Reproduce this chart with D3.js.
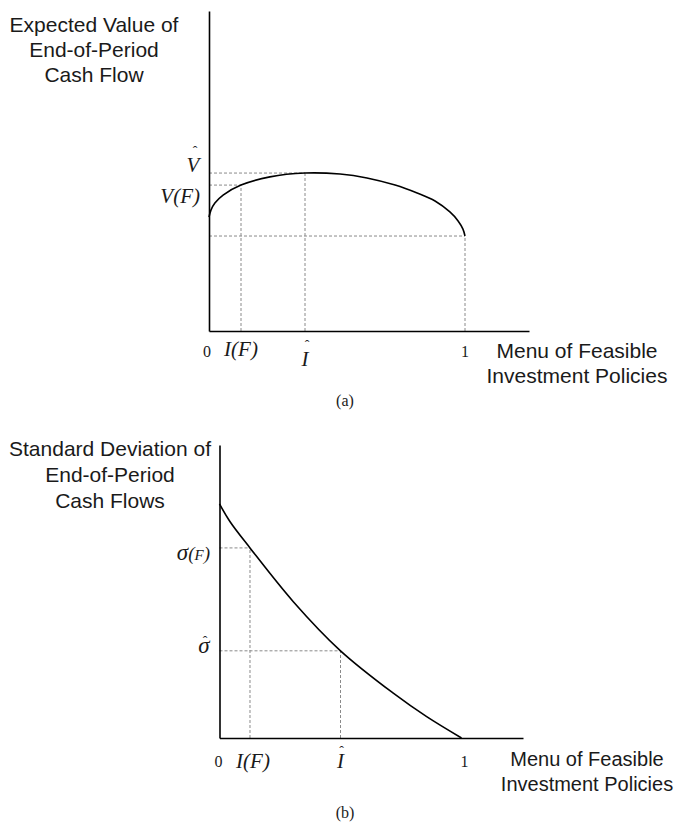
<!DOCTYPE html>
<html>
<head>
<meta charset="utf-8">
<script src="https://cdn.jsdelivr.net/npm/d3@7"></script>
<style>
  html, body { margin: 0; padding: 0; background: #fff; }
  svg { display: block; }
</style>
</head>
<body>
<svg id="chart" width="683" height="831"></svg>
<script>
// panel (a): expected value of cash flow along the investment menu
var valX = [0, 0.008, 0.023, 0.055, 0.125, 0.238, 0.375, 0.512, 0.617, 0.727, 0.813, 0.883, 0.941, 0.973, 0.992, 1.0];
var valY = [0.445, 0.473, 0.5, 0.531, 0.570, 0.602, 0.617, 0.613, 0.598, 0.570, 0.539, 0.508, 0.465, 0.430, 0.398, 0.371];
var valGuideX = [0.125, 0.375, 1];      // I(F), I-hat, 1
var valGuideY = [0.570, 0.617, 0.371];  // V(F), V-hat, value at 1

// panel (b): standard deviation of cash flows
var sdX = [0, 0.043, 0.126, 0.305, 0.5, 0.718, 0.856, 1];
var sdY = [0.967, 0.894, 0.785, 0.563, 0.36, 0.185, 0.088, 0];
var sdGuideX = [0.126, 0.5];   // I(F), I-hat
var sdGuideY = [0.785, 0.36];  // sigma(F), sigma-hat

var titleA = ["Expected Value of", "End-of-Period", "Cash Flow"];
var titleB = ["Standard Deviation of", "End-of-Period", "Cash Flows"];
var xTitle = ["Menu of Feasible", "Investment Policies"];

var svg = d3.select("#chart");
var sans = "'Liberation Sans', Arial, Helvetica, sans-serif";
var serif = "'Liberation Serif', 'Times New Roman', serif";

function panel(opt) {
    var x = d3.scaleLinear().domain(opt.xDomain).range(opt.xRange);
    var y = d3.scaleLinear().domain(opt.yDomain).range(opt.yRange);
    var g = svg.append("g");

    // dashed guides
    var pts = opt.gx.map(function (d, i) { return [d, opt.gy[i]]; });
    g.selectAll(".vguide").data(pts).enter().append("line")
        .attr("x1", function (d) { return x(d[0]); })
        .attr("x2", function (d) { return x(d[0]); })
        .attr("y1", y(0))
        .attr("y2", function (d) { return y(d[1]); });
    g.selectAll(".hguide").data(pts).enter().append("line")
        .attr("x1", x(0))
        .attr("x2", function (d) { return x(d[0]); })
        .attr("y1", function (d) { return y(d[1]); })
        .attr("y2", function (d) { return y(d[1]); });
    g.selectAll("line")
        .attr("stroke", "#8a8a8a")
        .attr("stroke-width", 1)
        .attr("stroke-dasharray", "3,2");

    // axes (domain lines only)
    g.append("g").attr("transform", "translate(0," + y(0) + ")")
        .call(d3.axisBottom(x).tickValues([]).tickSizeOuter(0));
    g.append("g").attr("transform", "translate(" + x(0) + ",0)")
        .call(d3.axisLeft(y).tickValues([]).tickSizeOuter(0));
    g.selectAll(".domain").attr("stroke", "#000").attr("stroke-width", 1.6);

    // curve
    var line = d3.line()
        .x(function (d) { return x(d[0]); })
        .y(function (d) { return y(d[1]); })
        .curve(d3.curveCatmullRom.alpha(0.5));
    g.append("path")
        .datum(opt.cx.map(function (d, i) { return [d, opt.cy[i]]; }))
        .attr("d", line)
        .attr("fill", "none")
        .attr("stroke", "#000")
        .attr("stroke-width", 1.6);

    return { x: x, y: y, g: g };
}

function txt(g, s, px, py, o) {
    o = o || {};
    return g.append("text")
        .attr("x", px).attr("y", py)
        .attr("text-anchor", o.anchor || "middle")
        .attr("font-family", o.family || serif)
        .attr("font-style", o.italic ? "italic" : "normal")
        .attr("font-size", (o.size || 21) + "px")
        .attr("fill", "#1a1a1a")
        .text(s);
}

// letter with a small circumflex above it, kept in one text element
function hatted(g, s, px, py, hx, hy, size) {
    var t = txt(g, null, px, py, { italic: true, size: size || 21 });
    t.append("tspan").attr("x", px).attr("y", py).text(s);
    t.append("tspan").attr("x", hx).attr("y", hy)
        .attr("font-style", "normal").attr("font-size", "14px").text("\u02C6");
    return t;
}

// ---- panel (a)
var A = panel({
    xDomain: [0, 1.25], xRange: [209, 529],
    yDomain: [0, 1.25], yRange: [331, 11],
    cx: valX, cy: valY, gx: valGuideX, gy: valGuideY
});
titleA.forEach(function (t, i) {
    txt(A.g, t, 94, 32 + i * 25, { family: sans, size: 21 });
});
xTitle.forEach(function (t, i) {
    txt(A.g, t, 577, 358 + i * 25, { family: sans, size: 21 });
});
txt(A.g, "0", A.x(0) - 2, 357, { size: 16 });
txt(A.g, "I(F)", A.x(valGuideX[0]), 356, { italic: true });
hatted(A.g, "I", A.x(valGuideX[1]), 366, A.x(valGuideX[1]) + 2, 350);
txt(A.g, "1", A.x(1), 357, { size: 16 });
txt(A.g, "V(F)", 200, A.y(valGuideY[0]) + 18, { italic: true, anchor: "end" });
hatted(A.g, "V", 193, A.y(valGuideY[1]) - 1, 195, A.y(valGuideY[1]) - 17);
txt(A.g, "(a)", 345, 406, { size: 16 });

// ---- panel (b)
var B = panel({
    xDomain: [0, 1.254], xRange: [219.5, 523],
    yDomain: [0, 1.21], yRange: [738, 445],
    cx: sdX, cy: sdY, gx: sdGuideX, gy: sdGuideY
});
titleB.forEach(function (t, i) {
    txt(B.g, t, 110, 456 + i * 26, { family: sans, size: 21 });
});
xTitle.forEach(function (t, i) {
    txt(B.g, t, 587, 766 + i * 25, { family: sans, size: 20 });
});
txt(B.g, "0", B.x(0) - 1, 767, { size: 16 });
txt(B.g, "I(F)", B.x(sdGuideX[0]) + 3, 768, { italic: true });
hatted(B.g, "I", B.x(sdGuideX[1]), 768, B.x(sdGuideX[1]) + 1, 756);
txt(B.g, "1", B.x(1) + 3, 767, { size: 16 });
var sf = txt(B.g, null, 210, B.y(sdGuideY[0]) + 12, { italic: true, anchor: "end", size: 23 });
sf.append("tspan").text("\u03C3");
sf.append("tspan").attr("font-size", "19px").text("(");
sf.append("tspan").attr("font-size", "15px").text("F");
sf.append("tspan").attr("font-size", "19px").text(")");
hatted(B.g, "\u03C3", 204, B.y(sdGuideY[1]) + 2, 205, B.y(sdGuideY[1]) - 5, 23);
txt(B.g, "(b)", 345, 818, { size: 16 });
</script>
</body>
</html>
